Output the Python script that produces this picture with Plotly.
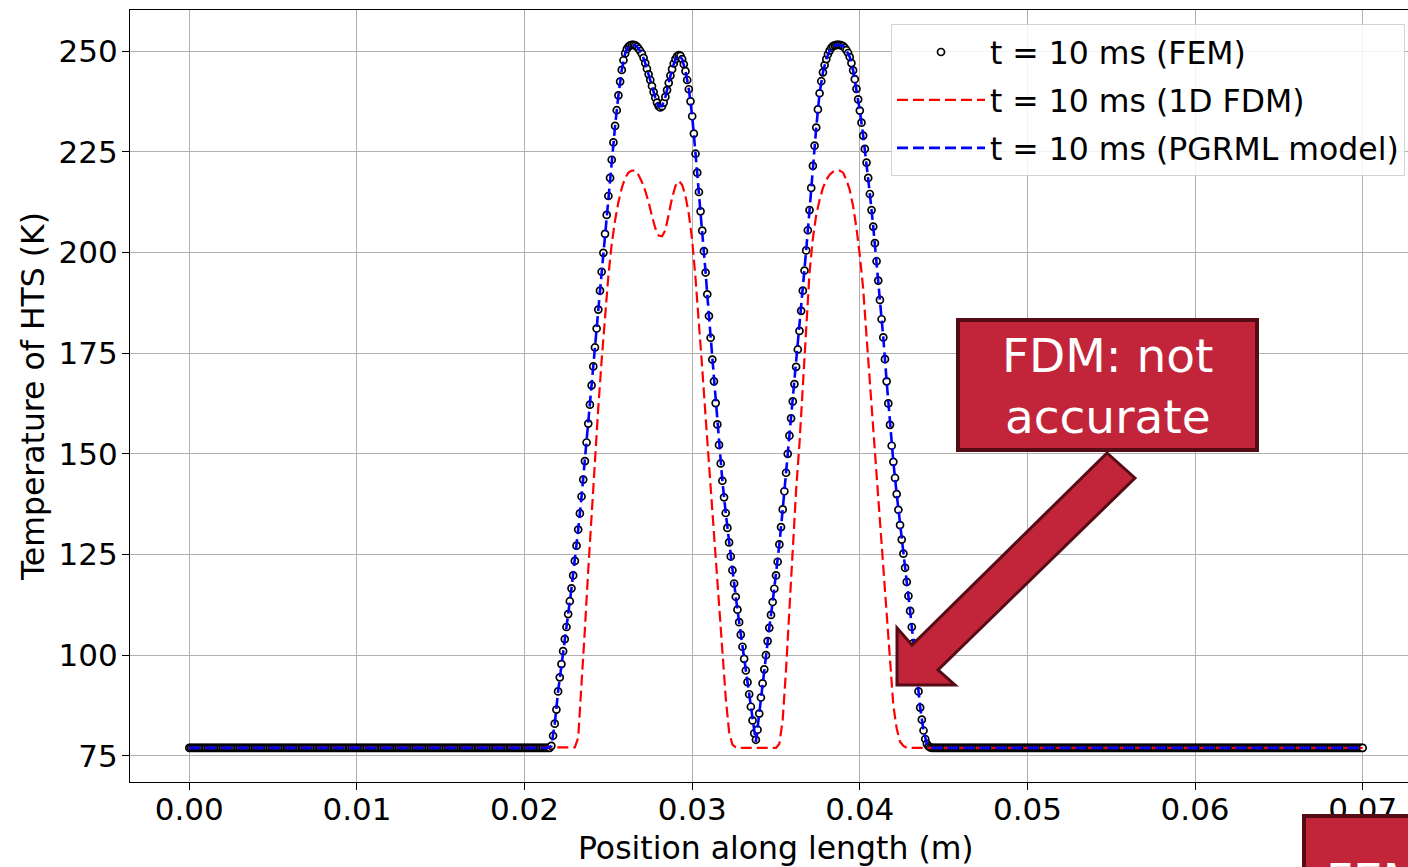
import numpy as np
import plotly.graph_objects as go

# ---------------- data ----------------
base_temp = 77.0
x_end = 0.07

# FEM: sampled every 0.0001 m; active (heated) zone values listed, outside = base temperature
fem_step = 0.0001
fem_active_start = 0.0215
fem_active_temp = [
    77.0, 77.5, 80.0, 83.0, 86.5, 91.0, 94.5, 97.8, 101.0, 104.0,
    107.0, 110.2, 113.4, 116.6, 119.8, 123.4, 127.2, 131.2, 135.2, 139.4,
    143.6, 148.2, 152.8, 157.5, 162.2, 167.0, 171.7, 176.4, 181.1, 185.8,
    190.5, 195.2, 199.9, 204.6, 209.3, 214.0, 218.5, 223.0, 227.3, 231.4,
    235.3, 239.0, 242.4, 245.3, 247.7, 249.4, 250.5, 251.1, 251.4, 251.5,
    251.5, 251.4, 251.1, 250.6, 250.0, 249.3, 248.3, 247.0, 245.6, 244.2,
    242.8, 241.3, 239.8, 238.4, 237.2, 236.3, 236.0, 236.3, 237.2, 238.6,
    240.3, 242.1, 243.9, 245.5, 246.9, 248.0, 248.7, 249.0, 248.8, 248.0,
    246.7, 245.0, 242.8, 240.5, 237.5, 233.8, 229.5, 224.5, 219.8, 215.0,
    210.2, 205.4, 200.3, 195.0, 189.6, 184.2, 178.8, 173.4, 168.0, 162.6,
    157.3, 152.2, 147.6, 143.3, 139.2, 135.3, 131.6, 128.0, 124.5, 121.1,
    117.8, 114.5, 111.3, 108.2, 105.1, 102.1, 99.1, 96.2, 93.3, 90.3,
    87.2, 83.8, 80.6, 79.0, 81.5, 85.5, 89.5, 93.0, 96.5, 100.0,
    103.5, 106.8, 110.0, 113.2, 116.5, 119.8, 123.2, 127.5, 131.8, 136.2,
    140.7, 145.3, 150.0, 154.5, 158.8, 163.0, 167.3, 171.6, 175.9, 180.5,
    185.5, 190.5, 195.5, 200.5, 205.5, 210.5, 216.0, 221.5, 226.5, 231.0,
    235.5, 239.5, 242.5, 244.7, 246.5, 248.0, 249.2, 250.1, 250.8, 251.2,
    251.4, 251.5, 251.5, 251.5, 251.4, 251.2, 250.8, 250.2, 249.5, 248.5,
    247.0, 245.2, 243.0, 240.6, 238.0, 235.2, 232.2, 229.0, 225.7, 222.3,
    218.5, 214.5, 210.5, 206.4, 202.3, 197.8, 193.0, 188.2, 183.4, 178.9,
    173.5, 168.0, 162.5, 157.2, 152.0, 148.0, 144.0, 140.0, 136.1, 132.3,
    128.7, 125.2, 121.7, 118.2, 114.7, 111.0, 107.0, 103.0, 99.2, 95.2,
    91.0, 87.0, 84.0, 81.3, 79.2, 78.0, 77.4, 77.1, 77.0,
]

# 1D FDM: every 0.0002 m in the active zone
fdm_step = 0.0002
fdm_active_start = 0.0228
fdm_active_temp = [
    77.0, 77.1, 79.5, 91.9, 106.5, 121.2, 135.6, 149.9, 161.6, 173.3,
    184.2, 194.2, 202.1, 208.0, 212.5, 216.0, 218.5, 219.8, 220.3, 220.3,
    219.2, 217.5, 215.3, 212.5, 209.0, 206.0, 204.2, 204.0, 205.5, 209.5,
    213.5, 216.5, 217.7, 216.8, 214.0, 209.5, 203.0, 193.5, 183.2, 171.2,
    159.2, 147.5, 135.5, 123.7, 112.0, 100.5, 89.5, 81.0, 77.8, 77.1,
    77.0, 77.0, 77.0, 77.0, 77.0, 77.0, 77.0, 77.0, 77.0, 77.0,
    77.0, 77.0, 78.0, 84.0, 96.5, 112.5, 127.0, 141.0, 152.5, 166.0,
    182.0, 195.0, 203.5, 209.3, 213.0, 216.0, 218.0, 219.3, 220.0, 220.3,
    220.3, 219.8, 218.0, 215.5, 211.5, 206.0, 199.2, 191.0, 179.2, 167.5,
    155.7, 144.0, 132.0, 120.5, 108.5, 97.0, 87.5, 81.8, 78.5, 77.5,
    77.0,
]

# PGRML model: every 0.0002 m in the active zone
pgrml_step = 0.0002
pgrml_active_start = 0.0214
pgrml_active_temp = [
    77.0, 77.5, 83.0, 91.0, 97.8, 104.0, 110.2, 116.6, 123.4, 131.2,
    139.4, 148.2, 157.5, 167.0, 176.4, 185.8, 195.2, 204.6, 214.0, 223.0,
    231.4, 239.0, 245.3, 249.4, 251.1, 251.5, 251.4, 250.6, 249.3, 247.0,
    244.2, 241.3, 238.4, 236.3, 236.3, 238.6, 242.1, 245.5, 248.0, 249.0,
    248.0, 245.0, 240.5, 233.8, 224.5, 215.0, 205.4, 195.0, 184.2, 173.4,
    162.6, 152.2, 143.3, 135.3, 128.0, 121.1, 114.5, 108.2, 102.1, 96.2,
    90.3, 83.8, 78.5, 85.5, 93.0, 100.0, 106.8, 113.2, 119.8, 127.5,
    136.2, 145.3, 154.5, 163.0, 171.6, 180.5, 190.5, 200.5, 210.5, 221.5,
    231.0, 239.5, 244.7, 248.0, 250.1, 251.2, 251.5, 251.5, 251.2, 250.2,
    248.5, 245.2, 240.6, 235.2, 229.0, 222.3, 214.5, 206.4, 197.8, 188.2,
    178.9, 168.0, 157.2, 148.0, 140.0, 132.3, 125.2, 118.2, 111.0, 103.0,
    95.2, 87.0, 81.3, 78.0, 77.1, 77.0,
]

x_tick_vals = [0.00, 0.01, 0.02, 0.03, 0.04, 0.05, 0.06, 0.07]
y_tick_vals = [75, 100, 125, 150, 175, 200, 225, 250]

series_names = ["t = 10 ms (FEM)", "t = 10 ms (1D FDM)", "t = 10 ms (PGRML model)"]
x_title = "Position along length (m)"
y_title = "Temperature of HTS (K)"

# ---------------- build series ----------------
n_before = int(round(fem_active_start / fem_step))
fem_active_end = fem_active_start + (len(fem_active_temp) - 1) * fem_step
n_after = int(round((x_end - fem_active_end) / fem_step))
fem_y = [base_temp] * n_before + fem_active_temp + [base_temp] * n_after
fem_x = np.round(np.arange(len(fem_y)) * fem_step, 5)


def line_series(start, step, vals):
    xs = [0.0] + [round(start + i * step, 5) for i in range(len(vals))] + [x_end]
    ys = [base_temp] + list(vals) + [base_temp]
    return xs, ys


fdm_x, fdm_y = line_series(fdm_active_start, fdm_step, fdm_active_temp)
pg_x, pg_y = line_series(pgrml_active_start, pgrml_step, pgrml_active_temp)

# ---------------- layout geometry ----------------
W, H = 1408, 867
ML, MR, MT, MB = 130, 0, 10, 85
PW, PH = W - ML - MR, H - MT - MB
# pixel scale of the reference axes
X0_PX, X_PX_PER_M = 189.3, 16763.0
Y250_PX, Y_PX_PER_K = 51.0, 4.028
x_range = [(ML - X0_PX) / X_PX_PER_M, (W - MR - X0_PX) / X_PX_PER_M]
y_range = [250 - ((H - MB) - Y250_PX) / Y_PX_PER_K, 250 + (Y250_PX - MT) / Y_PX_PER_K]


def px(xp):
    return (xp - ML) / PW


def py(yp):
    return ((H - MB) - yp) / PH


FONT = "DejaVu Sans"
RED_FILL = "#C22539"
RED_EDGE = "#560C15"

fig = go.Figure()
fig.add_trace(go.Scatter(
    x=fem_x, y=fem_y, mode="markers", name=series_names[0], legendgroup="a",
    marker=dict(symbol="circle", size=7, color="white",
                line=dict(color="black", width=1.7)),
))
fig.add_trace(go.Scatter(
    x=fdm_x, y=fdm_y, mode="lines", name=series_names[1], legendgroup="b",
    line=dict(color="red", width=2.2, dash="11px,5px"),
))
fig.add_trace(go.Scatter(
    x=pg_x, y=pg_y, mode="lines", name=series_names[2], legendgroup="c",
    line=dict(color="blue", width=2.6, dash="11px,5px"),
))

arrow_pts = [(1135, 478), (1107, 453), (912, 645), (897, 628), (897, 685), (955, 685), (938, 670)]
arrow_path = "M " + " L ".join(f"{px(a):.5f},{py(b):.5f}" for a, b in arrow_pts) + " Z"

shapes = [
    dict(type="rect", xref="paper", yref="paper",
         x0=px(958), x1=px(1257), y0=py(450), y1=py(320),
         fillcolor=RED_FILL, line=dict(color=RED_EDGE, width=4), layer="above"),
    dict(type="path", xref="paper", yref="paper", path=arrow_path,
         fillcolor=RED_FILL, line=dict(color=RED_EDGE, width=3), layer="above"),
    dict(type="rect", xref="paper", yref="paper",
         x0=px(1304), x1=px(1440), y0=py(910), y1=py(816),
         fillcolor=RED_FILL, line=dict(color=RED_EDGE, width=4), layer="above"),
]

annotations = [
    dict(xref="paper", yref="paper", x=px(1108), y=py(386), xanchor="center", yanchor="middle",
         text="FDM: not<br>accurate", showarrow=False,
         font=dict(family=FONT, size=47, color="white")),
    dict(xref="paper", yref="paper", x=px(1324), y=py(880), xanchor="left", yanchor="middle",
         text="FEM: accurate", showarrow=False,
         font=dict(family=FONT, size=47, color="white")),
    dict(xref="paper", yref="paper", x=px(776), y=py(848), xanchor="center", yanchor="middle",
         text=x_title, showarrow=False,
         font=dict(family=FONT, size=31.5, color="black")),
]

fig.update_layout(
    width=W, height=H,
    margin=dict(l=ML, r=MR, t=MT, b=MB, pad=0),
    paper_bgcolor="white", plot_bgcolor="white",
    font=dict(family=FONT, size=31, color="black"),
    showlegend=True,
    legend=dict(
        x=px(1405), y=py(24), xanchor="right", yanchor="top",
        bgcolor="rgba(255,255,255,0.85)", bordercolor="#d3d3d3", borderwidth=1,
        font=dict(family=FONT, size=31.5, color="black"),
        tracegroupgap=4, itemwidth=88,
    ),
    shapes=shapes,
    annotations=annotations,
)
fig.update_xaxes(
    range=x_range, tickvals=x_tick_vals, tickformat=".2f",
    showgrid=True, gridcolor="#b0b0b0", gridwidth=1,
    showline=True, linecolor="black", linewidth=1.3, mirror=True,
    ticks="outside", ticklen=7, tickwidth=1.3, tickcolor="black",
    zeroline=False, ticklabelstandoff=-7,
    tickfont=dict(family=FONT, size=31),
)
fig.update_yaxes(
    range=y_range, tickvals=y_tick_vals,
    showgrid=True, gridcolor="#b0b0b0", gridwidth=1,
    showline=True, linecolor="black", linewidth=1.3, mirror=False,
    ticks="outside", ticklen=7, tickwidth=1.3, tickcolor="black",
    zeroline=False, ticklabelstandoff=-2,
    title=dict(text=y_title, standoff=4,
               font=dict(family=FONT, size=31.5)),
    tickfont=dict(family=FONT, size=31),
)

fig.write_html("out.html")
